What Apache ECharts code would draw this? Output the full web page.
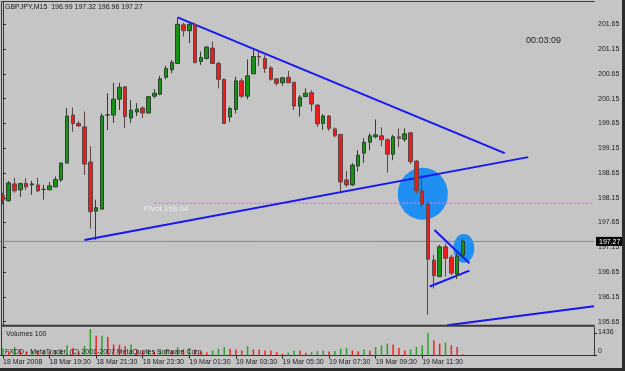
<!DOCTYPE html>
<html><head><meta charset="utf-8">
<script src="https://cdn.jsdelivr.net/npm/echarts@6/dist/echarts.min.js"></script>
<style>html,body{margin:0;padding:0;background:#c5c5c5;}#c{width:625px;height:371px;}</style>
</head><body><div id="c"></div>
<script>
// ---- data (GBPJPY, M15) ----
const opens = [198.19,198.09,198.43,198.31,198.44,198.41,198.41,198.32,198.31,198.37,198.51,198.85,199.82,199.65,199.58,198.87,197.88,197.92,199.82,199.82,200.14,200.39,199.76,199.88,199.96,199.86,200.20,200.24,200.58,200.73,200.86,201.64,201.52,201.64,200.90,200.96,201.17,200.86,200.54,199.78,199.93,200.51,200.20,200.65,201.00,200.96,200.77,200.55,200.47,200.58,200.48,200.00,200.19,200.27,200.02,199.65,199.80,199.54,199.43,198.51,198.41,198.79,199.05,199.27,199.38,199.40,199.32,199.03,199.38,199.33,199.46,198.89,198.29,198.02,196.89,196.56,197.16,196.95,196.61,196.99];
const closes = [198.11,198.45,198.29,198.44,198.37,198.43,198.29,198.32,198.39,198.52,198.85,199.80,199.65,199.60,198.83,197.87,197.95,199.80,199.82,200.14,200.38,199.79,199.92,199.94,199.86,200.19,200.26,200.55,200.76,200.88,201.65,201.52,201.65,200.88,200.98,201.19,200.86,200.54,199.65,199.95,200.51,200.20,200.61,201.00,200.99,200.76,200.54,200.46,200.57,200.47,200.00,200.18,200.26,200.04,199.64,199.80,199.55,199.40,198.47,198.41,198.81,199.01,199.27,199.40,199.42,199.32,199.03,199.38,199.35,199.44,198.88,198.29,198.02,196.91,196.58,197.16,196.93,196.63,196.97,197.27];
const lows = [198.02,198.07,198.25,198.17,198.31,198.21,198.27,198.11,198.31,198.36,198.47,198.84,199.48,199.58,198.61,197.53,197.30,197.92,199.52,199.66,199.92,199.56,199.66,199.80,199.76,199.85,200.16,200.22,200.54,200.66,200.86,201.40,201.27,200.86,200.83,200.94,200.86,200.36,199.64,199.68,199.85,200.16,200.14,200.65,200.81,200.67,200.51,200.41,200.41,200.47,199.92,199.79,200.19,199.89,199.58,199.52,199.50,199.37,198.27,198.37,198.39,198.68,198.85,199.11,199.35,199.19,198.66,198.91,199.17,199.28,198.83,198.24,197.97,195.79,196.32,196.55,196.56,196.59,196.51,196.96];
const highs = [198.25,198.49,198.55,198.45,198.55,198.49,198.55,198.41,198.47,198.58,198.86,199.96,199.97,199.70,199.89,199.19,198.11,199.85,200.26,200.47,200.47,200.40,200.12,200.06,200.00,200.20,200.34,200.61,200.81,200.93,201.79,201.68,201.70,201.68,201.10,201.21,201.30,200.90,200.55,199.99,200.59,200.56,200.94,201.17,201.10,201.03,200.81,200.56,200.59,200.71,200.49,200.22,200.36,200.32,200.04,199.84,199.82,199.57,199.43,198.69,198.85,199.11,199.35,199.45,199.73,199.57,199.35,199.42,199.55,199.55,199.48,198.91,198.61,198.07,197.00,197.20,197.23,197.00,197.03,197.32];
const volumes = [470,258,535,322,258,322,258,322,258,322,386,644,470,258,599,1674,1243,1256,1178,689,676,599,689,386,322,386,258,322,386,322,515,386,470,386,258,213,322,431,535,431,386,322,599,386,380,322,318,213,109,174,322,320,174,213,277,322,258,277,431,470,322,258,386,322,535,644,753,689,470,322,386,535,644,1436,966,753,818,644,535,84];
const priceTicks = [195.65,196.15,196.65,197.15,197.65,198.15,198.65,199.15,199.65,200.15,200.65,201.15,201.65];
const volumeTicks = [0, 1436];
const xTickLabels = ["18 Mar 2008","18 Mar 19:30","18 Mar 21:30","18 Mar 23:30","19 Mar 01:30","19 Mar 03:30","19 Mar 05:30","19 Mar 07:30","19 Mar 09:30","19 Mar 11:30"];
const lastPrice = 197.27;
const pivotPrice = 198.04;
const pivotStart = 26;
// drawn objects in [bar index, price]
const trendLines = [
  [[30, 201.79], [86.16, 199.05]],
  [[14.0, 197.30], [90.2, 198.97]],
  [[74.1, 197.50], [80.1, 196.83]],
  [[73.3, 196.36], [80.1, 196.68]],
  [[76.3, 195.58], [101.5, 195.96]]
];
// [center bar, center price, half width (bars), half height (price)]
const ellipses = [[72.1, 198.23, 4.3, 0.525], [79.14, 197.13, 1.8, 0.29]];

// ---- build ----
const SLOTS = 102;
const categories = [];
for (let i = 0; i < SLOTS; i++) {
  const m = 17 * 60 + 30 + i * 15;
  const d = m >= 1440 ? 19 : 18;
  const mm = m % 1440;
  categories.push(i < opens.length ? (d + ' Mar ' + String(Math.floor(mm / 60)).padStart(2, '0') + ':' + String(mm % 60).padStart(2, '0')) : ('f' + i));
}
const labelMap = {};
xTickLabels.forEach((t, k) => { labelMap[categories[k * 8]] = t; });
const showTick = (idx) => idx % 8 === 0 && idx < opens.length;

const candleData = opens.map((o, i) => [o, closes[i], lows[i], highs[i]]);
const volData = volumes.map((v, i) => ({
  value: v,
  itemStyle: { color: (i === 0 || v > volumes[i - 1]) ? '#2f9f2f' : '#f02323' }
}));

const FONT = 'Liberation Sans, Arial, sans-serif';
const chart = echarts.init(document.getElementById('c'), null, { renderer: 'canvas' });
chart.setOption({
  animation: false,
  backgroundColor: '#c5c5c5',
  grid: [
    { left: -0.4, right: 31, top: 2, bottom: 45.5 },
    { left: -0.4, right: 31, top: 327, bottom: 15.5 }
  ],
  xAxis: [
    { type: 'category', gridIndex: 0, data: categories, boundaryGap: true, axisLine: { show: false }, axisTick: { show: false }, axisLabel: { show: false }, splitLine: { show: false } },
    { type: 'value', gridIndex: 0, min: -0.5, max: SLOTS - 0.5, show: false, splitLine: { show: false } },
    { type: 'category', gridIndex: 1, data: categories, boundaryGap: true,
      axisLine: { show: true, lineStyle: { color: '#333', width: 1 } },
      axisTick: { show: true, alignWithLabel: true, interval: showTick, length: 3, lineStyle: { color: '#222' } },
      axisLabel: { show: true, interval: showTick, align: 'left', margin: 3, fontSize: 7, fontFamily: FONT, color: '#1e1e1e', formatter: (v) => labelMap[v] || '' },
      splitLine: { show: false } }
  ],
  yAxis: [
    { type: 'value', gridIndex: 0, position: 'right', min: 195.573, max: 202.100, scale: true,
      axisLine: { show: true, lineStyle: { color: '#3a3a3a', width: 1 } },
      axisTick: { show: true, customValues: priceTicks, length: 3, lineStyle: { color: '#222' } },
      axisLabel: { show: true, customValues: priceTicks, formatter: (v) => v.toFixed(2), margin: 4, fontSize: 7, fontFamily: FONT, color: '#1e1e1e' },
      splitLine: { show: false } },
    { type: 'value', gridIndex: 1, position: 'right', min: 0, max: 1803,
      axisLine: { show: true, lineStyle: { color: '#3a3a3a', width: 1 } },
      axisTick: { show: true, customValues: volumeTicks, length: 3, lineStyle: { color: '#222' } },
      axisLabel: { show: true, customValues: volumeTicks, margin: 4, fontSize: 7, fontFamily: FONT, color: '#1e1e1e',
        formatter: (v) => v === 0 ? '{z|0}' : '{n|' + v + '}',
        rich: { z: { padding: [0, 0, 9, 0], fontSize: 7, fontFamily: FONT, color: '#1e1e1e' }, n: { padding: [0, 0, 1, 0], fontSize: 7, fontFamily: FONT, color: '#1e1e1e' } } },
      splitLine: { show: false } }
  ],
  series: [
    {
      type: 'custom', xAxisIndex: 1, yAxisIndex: 0, z: 1, silent: true, clip: false,
      data: [[0, 0]],
      renderItem: (params, api) => {
        const pt = (i, p) => api.coord([i, p]);
        const ch = [];
        ellipses.forEach(([ci, cp, rb, rp]) => {
          const c = pt(ci, cp), e = pt(ci + rb, cp - rp);
          const rx = e[0] - c[0], ry = e[1] - c[1];
          ch.push({ type: 'circle', x: c[0], y: c[1], scaleX: rx / ry, shape: { cx: 0, cy: 0, r: ry }, style: { fill: '#1f8ff2' } });
        });
        // current price line
        const a = pt(-0.5, lastPrice), b = pt(SLOTS - 0.5, lastPrice);
        ch.push({ type: 'line', shape: { x1: a[0], y1: a[1], x2: b[0], y2: b[1] }, style: { stroke: '#7c8996', lineWidth: 1 } });
        // pivot line
        const p1 = pt(pivotStart, pivotPrice), p2 = pt(SLOTS - 0.5, pivotPrice);
        ch.push({ type: 'line', shape: { x1: p1[0], y1: p1[1], x2: p2[0], y2: p2[1] }, style: { stroke: '#e276e2', lineWidth: 1.5, lineDash: [2, 2] } });
        const pl = pt(24.2, pivotPrice);
        ch.push({ type: 'text', x: pl[0], y: pl[1] + 1.5, style: { text: 'Pivot 198.04', fill: '#eef3fa', font: '8px ' + FONT, textVerticalAlign: 'top', opacity: 0.85 } });
        trendLines.forEach(([s, e]) => {
          const u = pt(s[0], s[1]), v = pt(e[0], e[1]);
          ch.push({ type: 'line', shape: { x1: u[0], y1: u[1], x2: v[0], y2: v[1] }, style: { stroke: '#1717f2', lineWidth: 2 } });
        });
        // last price tag
        ch.push({ type: 'rect', shape: { x: b[0] + 2, y: b[1] - 4.5, width: 26, height: 9 }, style: { fill: '#050505' }, z2: 10 });
        ch.push({ type: 'text', x: b[0] + 5, y: b[1] + 0.5, style: { text: lastPrice.toFixed(2), fill: '#ffffff', font: '7px ' + FONT, textVerticalAlign: 'middle' }, z2: 11 });
        return { type: 'group', children: ch };
      }
    },
    {
      type: 'candlestick', xAxisIndex: 0, yAxisIndex: 0, z: 2, barWidth: 4,
      data: candleData,
      itemStyle: { color: '#179217', color0: '#ee1c1c', borderColor: '#2c422c', borderColor0: '#5e4646', borderWidth: 1 }
    },
    {
      type: 'bar', xAxisIndex: 2, yAxisIndex: 1, barWidth: 1.5, data: volData
    }
  ],
  graphic: [
    { type: 'line', shape: { x1: 1.5, y1: 1.5, x2: 1.5, y2: 356 }, style: { stroke: '#3a3a3a', lineWidth: 1 }, z: 50 },
    { type: 'line', shape: { x1: 1.5, y1: 1.5, x2: 594.5, y2: 1.5 }, style: { stroke: '#3a3a3a', lineWidth: 1 }, z: 50 },
    { type: 'rect', shape: { x: 1.5, y: 324.8, width: 593, height: 2 }, style: { fill: '#3a3a3a' }, z: 50 },
    { type: 'rect', shape: { x: 622, y: 0, width: 3, height: 371 }, style: { fill: '#2c2c2c' }, z: 50 },
    { type: 'rect', shape: { x: 0, y: 368, width: 625, height: 3 }, style: { fill: '#2c2c2c' }, z: 50 },
    { type: 'text', x: 5, y: 7.5, style: { text: 'GBPJPY,M15  196.99 197.32 196.96 197.27', fill: '#1a1a1a', font: '7px ' + FONT, textVerticalAlign: 'middle' }, z: 50 },
    { type: 'text', x: 526, y: 41, style: { text: '00:03:09', fill: '#262626', font: '9px ' + FONT, textVerticalAlign: 'middle' }, z: 50 },
    { type: 'text', x: 6, y: 334, style: { text: 'Volumes 100', fill: '#1a1a1a', font: '7px ' + FONT, textVerticalAlign: 'middle' }, z: 50 },
    { type: 'text', x: 5, y: 352.5, style: { text: 'FXDD - MetaTrader, (C) 2001-2007 MetaQuotes Software Corp.', fill: '#1a1a1a', font: '7px ' + FONT, textVerticalAlign: 'middle' }, z: 50 }
  ]
});
</script>
</body></html>
